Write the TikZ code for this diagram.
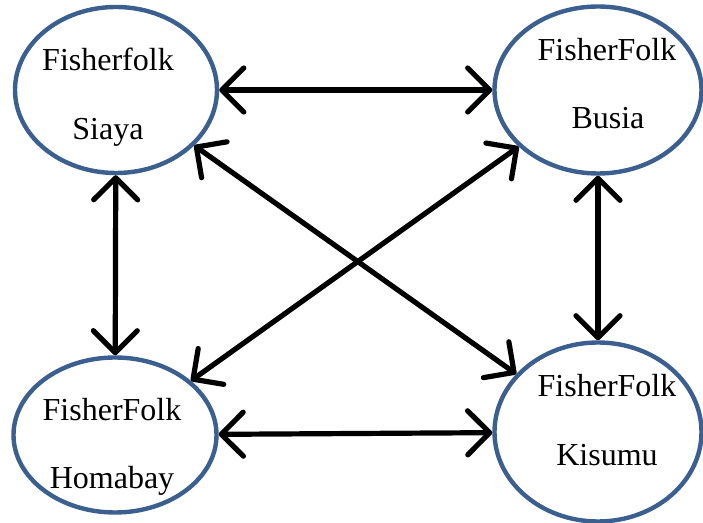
\documentclass[tikz,border=0pt]{standalone}
\usepackage{fontspec}
\setmainfont{Liberation Serif}
\usepackage{tikz}
\usetikzlibrary{arrows.meta, shapes.geometric}

\definecolor{folkblue}{HTML}{3B5F8E}

\begin{document}
\begin{tikzpicture}[x=0.5pt, y=-0.5pt,
	folk/.style={ellipse, draw=folkblue, line width=2.2pt, inner sep=0pt},
	folktext/.style={anchor=base, font={\fontsize{16}{19}\selectfont}},
	link/.style={line width=2.6pt, line cap=round,
		{Straight Barb[length=11pt, width=22pt, line width=2.6pt, round]}-{Straight Barb[length=11pt, width=22pt, line width=2.6pt, round]}}]
	\useasboundingbox (0,0) rectangle (703,523);
	% the four fisherfolk groups
	\node[folk, minimum width=101pt, minimum height=83pt] (siaya) at (116,90) {};
	\node[folk, minimum width=103.5pt, minimum height=83.5pt] (busia) at (598,90) {};
	\node[folk, minimum width=101.5pt, minimum height=77.5pt] (homabay) at (115,435) {};
	\node[folk, minimum width=103.5pt, minimum height=89.5pt] (kisumu) at (598,432) {};
	\node[folktext] (siaya1) at (108,71) {Fisherfolk};
	\node[folktext] (siaya2) at (108,140) {Siaya};
	\node[folktext] (busia1) at (607,61) {FisherFolk};
	\node[folktext] (busia2) at (608,129) {Busia};
	\node[folktext] (homabay1) at (112,421) {FisherFolk};
	\node[folktext] (homabay2) at (112,489) {Homabay};
	\node[folktext] (kisumu1) at (607,397) {FisherFolk};
	\node[folktext] (kisumu2) at (607,466) {Kisumu};
	% links
	\draw[link] (siaya) -- (busia);
	\draw[link] (homabay) -- (kisumu);
	\draw[link] (siaya) -- (homabay);
	\draw[link] (busia) -- (kisumu);
	\draw[link] (siaya) -- (kisumu);
	\draw[link] (busia) -- (homabay);
\end{tikzpicture}
\end{document}
